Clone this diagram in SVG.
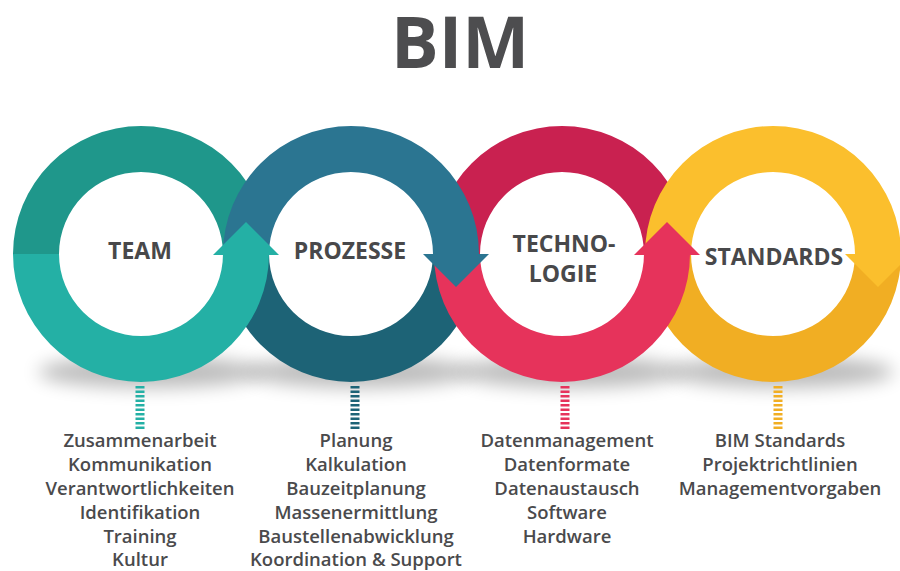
<svg xmlns="http://www.w3.org/2000/svg" width="900" height="571" viewBox="0 0 900 571">
  <defs>
    <filter id="soft" x="-30%" y="-200%" width="160%" height="500%">
      <feGaussianBlur stdDeviation="9"/>
    </filter>
    <style>
      .title { font-family: "Open Sans", "Liberation Sans", sans-serif; font-weight: 700; font-size: 71px; fill: #4d4d4f; text-anchor: middle; }
      .label { font-family: "Open Sans", "Liberation Sans", sans-serif; font-weight: 700; font-size: 23px; fill: #48484a; text-anchor: middle; }
      .item { font-family: "Open Sans", "Liberation Sans", sans-serif; font-weight: 600; font-size: 18.5px; fill: #4a4a4c; text-anchor: middle; }
      .shadow { fill: #000; opacity: 0.26; filter: url(#soft); }
      .leader { fill: none; stroke-width: 9; stroke-dasharray: 2.6 1.9; }
      .teal-top { fill: #1f978b; } .teal-bot { fill: #24b0a5; }
      .blue-top { fill: #2b7591; } .blue-bot { fill: #1d6376; }
      .red-top { fill: #c92150; } .red-bot { fill: #e6335b; }
      .gold-top { fill: #fbbf2d; } .gold-bot { fill: #f1ae23; }
    </style>
  </defs>

  <rect width="900" height="571" fill="#ffffff"/>

  <text class="title" x="460" y="68">BIM</text>

  <!-- soft floor shadows under the rings -->
  <g id="shadows">
    <ellipse class="shadow" cx="150" cy="372" rx="112" ry="16"/>
    <ellipse class="shadow" cx="360" cy="372" rx="112" ry="16"/>
    <ellipse class="shadow" cx="571" cy="372" rx="112" ry="16"/>
    <ellipse class="shadow" cx="782" cy="372" rx="112" ry="16"/>
  </g>

  <!-- ring halves, outer r 128, inner r 82, centre y 254; stacked so each ring weaves through the next -->
  <g id="rings">
    <path class="teal-top" d="M13,254 A128,128 0 0 1 269,254 L223,254 A82,82 0 0 0 59,254 Z"/>
    <path class="red-top"  d="M434,254 A128,128 0 0 1 690,254 L644,254 A82,82 0 0 0 480,254 Z"/>
    <path class="blue-top" d="M223,254 A128,128 0 0 1 479,254 L433,254 A82,82 0 0 0 269,254 Z"/>
    <path class="gold-top" d="M645,254 A128,128 0 0 1 901,254 L855,254 A82,82 0 0 0 691,254 Z"/>
    <path class="blue-bot" d="M223,254 A128,128 0 0 0 479,254 L433,254 A82,82 0 0 1 269,254 Z"/>
    <path class="gold-bot" d="M645,254 A128,128 0 0 0 901,254 L855,254 A82,82 0 0 1 691,254 Z"/>
    <path class="teal-bot" d="M13,254 A128,128 0 0 0 269,254 L223,254 A82,82 0 0 1 59,254 Z"/>
    <path class="red-bot"  d="M434,254 A128,128 0 0 0 690,254 L644,254 A82,82 0 0 1 480,254 Z"/>
  </g>

  <!-- arrowheads linking one ring to the next -->
  <g id="connectors">
    <polygon class="teal-bot" points="213,255 279,255 246,222"/>
    <polygon class="blue-top" points="423,254 489,254 456,287"/>
    <polygon class="red-bot"  points="634,255 700,255 667,222"/>
    <polygon class="gold-top" points="845,254 911,254 878,287"/>
  </g>

  <g id="node-team">
    <text class="label" x="140" y="259">TEAM</text>
    <line class="leader" x1="140" y1="386" x2="140" y2="429" stroke="#24b0a5"/>
    <text class="item" x="140" y="447">Zusammenarbeit</text>
    <text class="item" x="140" y="471">Kommunikation</text>
    <text class="item" x="140" y="495">Verantwortlichkeiten</text>
    <text class="item" x="140" y="519">Identifikation</text>
    <text class="item" x="140" y="543">Training</text>
    <text class="item" x="140" y="566">Kultur</text>
  </g>

  <g id="node-prozesse">
    <text class="label" x="350" y="259">PROZESSE</text>
    <line class="leader" x1="355" y1="386" x2="355" y2="429" stroke="#1d6376"/>
    <text class="item" x="356" y="447">Planung</text>
    <text class="item" x="356" y="471">Kalkulation</text>
    <text class="item" x="356" y="495">Bauzeitplanung</text>
    <text class="item" x="356" y="519">Massenermittlung</text>
    <text class="item" x="356" y="543">Baustellenabwicklung</text>
    <text class="item" x="356" y="566">Koordination &amp; Support</text>
  </g>

  <g id="node-technologie">
    <text class="label" x="564" y="252">TECHNO-</text>
    <text class="label" x="563" y="282">LOGIE</text>
    <line class="leader" x1="565" y1="386" x2="565" y2="429" stroke="#e6335b"/>
    <text class="item" x="567" y="447">Datenmanagement</text>
    <text class="item" x="567" y="471">Datenformate</text>
    <text class="item" x="567" y="495">Datenaustausch</text>
    <text class="item" x="567" y="519">Software</text>
    <text class="item" x="567" y="543">Hardware</text>
  </g>

  <g id="node-standards">
    <text class="label" x="774" y="265">STANDARDS</text>
    <line class="leader" x1="778" y1="386" x2="778" y2="429" stroke="#f1ae23"/>
    <text class="item" x="780" y="447">BIM Standards</text>
    <text class="item" x="780" y="471">Projektrichtlinien</text>
    <text class="item" x="780" y="495">Managementvorgaben</text>
  </g>
</svg>
